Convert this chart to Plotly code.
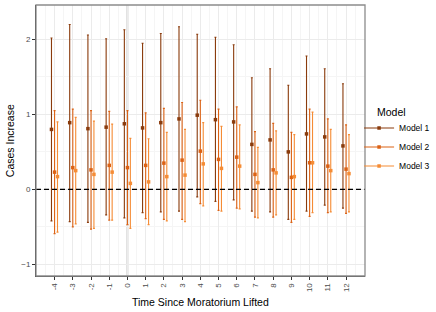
import plotly.graph_objects as go

time = [-4, -3, -2, -1, 0, 1, 2, 3, 4, 5, 6, 7, 8, 9, 10, 11, 12]

m1_est = [0.80, 0.89, 0.81, 0.83, 0.875, 0.82, 0.89, 0.94, 0.99, 0.93, 0.90, 0.60, 0.66, 0.50, 0.74, 0.70, 0.58]
m1_hi = [2.02, 2.20, 2.06, 2.01, 2.13, 1.95, 2.08, 2.17, 2.07, 2.03, 1.93, 1.49, 1.61, 1.39, 1.78, 1.61, 1.41]
m1_lo = [-0.42, -0.43, -0.44, -0.34, -0.38, -0.31, -0.30, -0.29, -0.10, -0.16, -0.14, -0.29, -0.30, -0.40, -0.29, -0.21, -0.25]

m2_est = [0.23, 0.29, 0.26, 0.32, 0.29, 0.32, 0.35, 0.39, 0.51, 0.40, 0.43, 0.20, 0.26, 0.16, 0.355, 0.31, 0.27]
m2_hi = [1.05, 1.07, 1.05, 1.04, 1.05, 1.02, 1.08, 1.16, 1.19, 1.07, 1.10, 0.77, 0.88, 0.76, 1.07, 0.94, 0.86]
m2_lo = [-0.59, -0.50, -0.53, -0.41, -0.47, -0.39, -0.40, -0.40, -0.19, -0.28, -0.25, -0.37, -0.37, -0.44, -0.36, -0.31, -0.32]

m3_est = [0.17, 0.25, 0.20, 0.23, 0.08, 0.10, 0.17, 0.19, 0.34, 0.28, 0.31, 0.09, 0.22, 0.17, 0.355, 0.25, 0.21]
m3_hi = [0.90, 0.96, 0.91, 0.87, 0.68, 0.675, 0.76, 0.80, 0.89, 0.84, 0.86, 0.56, 0.78, 0.73, 1.03, 0.80, 0.73]
m3_lo = [-0.57, -0.46, -0.52, -0.41, -0.52, -0.47, -0.42, -0.43, -0.22, -0.29, -0.26, -0.38, -0.34, -0.40, -0.31, -0.30, -0.30]

models = ["Model 1", "Model 2", "Model 3"]
colors = ["#8a3b0c", "#dc6214", "#f58c35"]
dodge = [-0.17, 0.0, 0.16]
series = [(m1_est, m1_hi, m1_lo), (m2_est, m2_hi, m2_lo), (m3_est, m3_hi, m3_lo)]

fig = go.Figure()
for name, col, dx, (est, hi, lo) in zip(models, colors, dodge, series):
    fig.add_trace(go.Scatter(
        x=[t + dx for t in time],
        y=est,
        mode="markers",
        name=name,
        showlegend=False,
        marker=dict(color=col, size=3.5, symbol="square"),
        error_y=dict(
            type="data", symmetric=False,
            array=[h - e for h, e in zip(hi, est)],
            arrayminus=[e - l for e, l in zip(est, lo)],
            color=col, thickness=1.1, width=1,
        ),
    ))
# legend keys (line + point, as in the reference)
for name, col in zip(models, colors):
    fig.add_trace(go.Scatter(
        x=[None], y=[None], mode="lines+markers", name=name,
        line=dict(color=col, width=1.2),
        marker=dict(color=col, size=3.5, symbol="square"),
    ))

fig.add_shape(type="line", xref="x", yref="paper", x0=0, x1=0, y0=0, y1=1,
              line=dict(color="#a0a0a0", width=1.5), layer="below")
fig.add_shape(type="line", xref="paper", yref="y", x0=0, x1=1, y0=0, y1=0,
              line=dict(color="black", width=1.2, dash="5px,3px"))
fig.add_shape(type="rect", xref="paper", yref="paper", x0=0, x1=1, y0=0, y1=1,
              line=dict(color="#8c8c8c", width=1.3), fillcolor="rgba(0,0,0,0)")

fig.add_annotation(text="Cases Increase", xref="paper", yref="paper",
                   x=-0.08, y=0.5, xanchor="center", yanchor="middle",
                   textangle=-90, showarrow=False, font=dict(size=10.5))
fig.add_annotation(text="Time Since Moratorium Lifted", xref="paper", yref="paper",
                   x=0.5, y=-0.096, xanchor="center", yanchor="middle",
                   showarrow=False, font=dict(size=10.5))
fig.add_annotation(text="Model", xref="paper", yref="paper",
                   x=1.03, y=0.605, xanchor="left", yanchor="middle",
                   showarrow=False, font=dict(size=10.5))

fig.update_layout(
    width=436, height=312,
    margin=dict(l=36, r=71, t=5, b=36, autoexpand=False),
    plot_bgcolor="white", paper_bgcolor="white",
    font=dict(family="Liberation Sans, Arial, sans-serif", color="black"),
    showlegend=True,
    legend=dict(
        font=dict(size=8.5),
        bgcolor="rgba(0,0,0,0)",
        x=0.982, xanchor="left", y=0.476, yanchor="middle",
        itemwidth=30, tracegroupgap=0,
    ),
    xaxis=dict(
        range=[-5.02, 13.04], automargin=False,
        tickmode="array", tickvals=time, ticktext=[str(t) for t in time],
        tickangle=-90, tickfont=dict(size=8, color="#4d4d4d"),
        ticks="outside", ticklen=3, tickcolor="#333333",
        showgrid=True, gridcolor="#ebebeb", gridwidth=0.8,
        minor=dict(dtick=0.5, tick0=-4.5, showgrid=True, gridcolor="#f5f5f5", gridwidth=0.5),
        showline=True, linecolor="#333333", linewidth=1,
        zeroline=False,
    ),
    yaxis=dict(
        range=[-1.156, 2.46], automargin=False,
        tickmode="array", tickvals=[-1, 0, 1, 2], ticktext=["\u22121", "0", "1", "2"],
        tickfont=dict(size=8, color="#4d4d4d"),
        ticks="outside", ticklen=3, tickcolor="#333333",
        showgrid=True, gridcolor="#ebebeb", gridwidth=0.8,
        minor=dict(dtick=0.5, tick0=-0.5, showgrid=True, gridcolor="#f5f5f5", gridwidth=0.5),
        showline=True, linecolor="#333333", linewidth=1,
        zeroline=False,
    ),
)

fig.write_html("out.html", config={"displayModeBar": False},
               post_script="document.body.style.margin='0';document.body.style.overflow='hidden';")
